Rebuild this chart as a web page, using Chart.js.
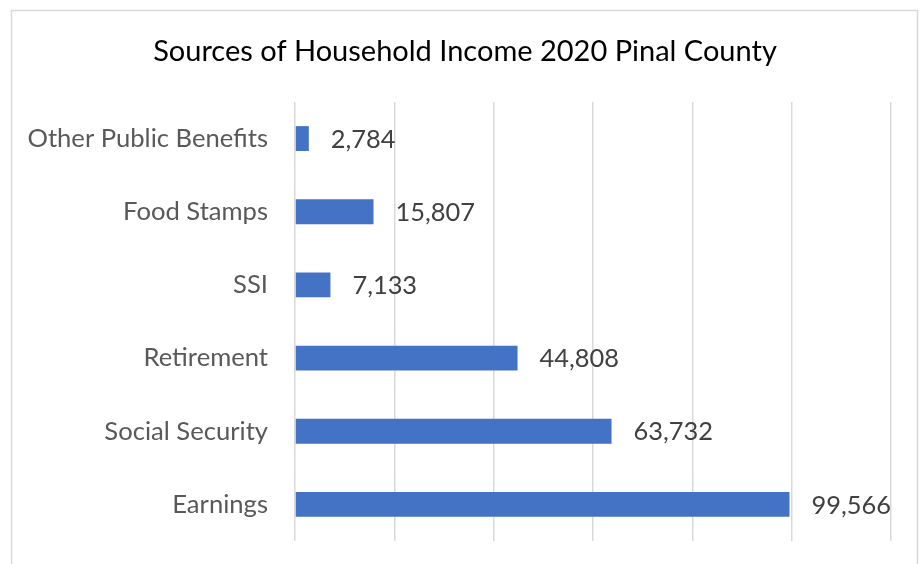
<!DOCTYPE html>
<html>
<head>
<meta charset="utf-8">
<script src="https://cdn.jsdelivr.net/npm/chart.js@4.4.1/dist/chart.umd.min.js"></script>
<style>
  html, body { margin: 0; padding: 0; background: #ffffff; }
  #wrap { position: relative; width: 920px; height: 564px; }
</style>
</head>
<body>
<div id="wrap"><canvas id="chart" width="920" height="564"></canvas></div>
<script>
// Household income sources, Pinal County, 2020
const categories = ['Other Public Benefits', 'Food Stamps', 'SSI', 'Retirement', 'Social Security', 'Earnings'];
const households = [2784, 15807, 7133, 44808, 63732, 99566];
const axisTicks = [0, 20000, 40000, 60000, 80000, 100000, 120000];
const chartTitle = 'Sources of Household Income 2020 Pinal County';

const FONT = 'Lato, "Open Sans", sans-serif';

// thin grey frame around the chart plus the centred title
const frame = {
  id: 'frame',
  beforeDraw(chart) {
    const ctx = chart.ctx;
    ctx.save();
    ctx.strokeStyle = '#d9d9d9';
    ctx.lineWidth = 1.5;
    ctx.strokeRect(11.5, 10.5, 906, 600);
    ctx.fillStyle = '#000000';
    ctx.font = '29px ' + FONT;
    ctx.textAlign = 'center';
    ctx.textBaseline = 'middle';
    ctx.fillText(chartTitle, 465, 52);
    ctx.restore();
  }
};

// value labels to the right of each bar
const valueLabels = {
  id: 'valueLabels',
  afterDatasetsDraw(chart) {
    const ctx = chart.ctx;
    const meta = chart.getDatasetMeta(0);
    ctx.save();
    ctx.fillStyle = '#404040';
    ctx.font = '25.4px ' + FONT;
    ctx.textAlign = 'left';
    ctx.textBaseline = 'middle';
    meta.data.forEach((bar, i) => {
      const v = chart.data.datasets[0].data[i];
      ctx.fillText(v.toLocaleString('en-US'), bar.x + 22, bar.y + 1);
    });
    ctx.restore();
  }
};

new Chart(document.getElementById('chart'), {
  type: 'bar',
  data: {
    labels: categories,
    datasets: [{
      data: households,
      backgroundColor: '#4472c4',
      borderWidth: 0,
      barPercentage: 0.34,
      categoryPercentage: 1.0
    }]
  },
  options: {
    indexAxis: 'y',
    responsive: false,
    animation: false,
    layout: { padding: { left: 0, right: 29, top: 102, bottom: 23 } },
    plugins: {
      legend: { display: false },
      tooltip: { enabled: false },
      title: { display: false }
    },
    scales: {
      x: {
        min: axisTicks[0],
        max: axisTicks[axisTicks.length - 1],
        afterBuildTicks(scale) { scale.ticks = axisTicks.map(v => ({ value: v })); },
        afterFit(scale) { scale.height = 0; },
        ticks: { display: false },
        grid: { color: '#d9d9d9', lineWidth: 1.5, drawTicks: false },
        border: { display: false }
      },
      y: {
        afterFit(scale) {
          scale.width = 295;
          scale.paddingTop = 0;
          scale.paddingBottom = 0;
        },
        ticks: {
          color: '#595959',
          padding: 27,
          font: { family: FONT, size: 25.6 }
        },
        grid: { display: false, drawTicks: false },
        border: { display: false }
      }
    }
  },
  plugins: [frame, valueLabels]
});
</script>
</body>
</html>
